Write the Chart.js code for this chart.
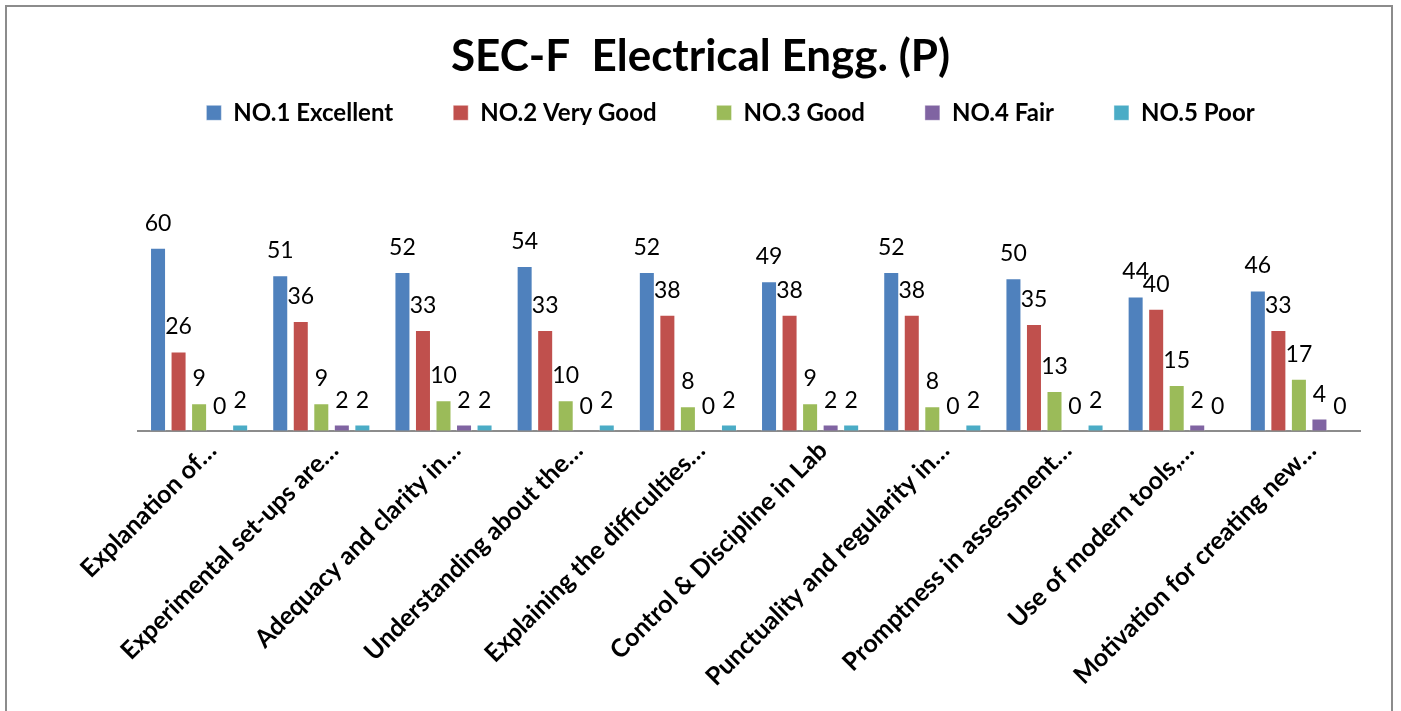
<!DOCTYPE html>
<html>
<head>
<meta charset="utf-8">
<script src="https://cdn.jsdelivr.net/npm/chart.js@4.4.1/dist/chart.umd.min.js"></script>
<style>
  html, body { margin: 0; padding: 0; background: #fff; }
  #frame { position: absolute; left: 5px; top: 5px; width: 1388px; height: 760px; border: 2px solid #8c8c8c; box-sizing: border-box; }
  #wrap { position: absolute; left: 0; top: 0; width: 1401px; height: 711px; }
</style>
</head>
<body>
<div id="frame"></div>
<div id="wrap"><canvas id="surveyChart" width="1401" height="711"></canvas></div>
<script>
// Lab feedback, SEC-F Electrical Engg. (P)
const categories = [
    'Explanation of…',
    'Experimental set-ups are…',
    'Adequacy and clarity in…',
    'Understanding about the…',
    'Explaining the difficulties…',
    'Control & Discipline in Lab',
    'Punctuality and regularity in…',
    'Promptness in assessment…',
    'Use of modern tools,…',
    'Motivation for creating new…'
];
const excellent = [60, 51, 52, 54, 52, 49, 52, 50, 44, 46];
const veryGood  = [26, 36, 33, 33, 38, 38, 38, 35, 40, 33];
const good      = [9, 9, 10, 10, 8, 9, 8, 13, 15, 17];
const fair      = [0, 2, 2, 0, 0, 2, 0, 0, 2, 4];
const poor      = [2, 2, 2, 2, 2, 2, 2, 2, 0, 0];

const FONT = 'Lato, "Open Sans", sans-serif';

// values written above each bar
const barValues = {
    id: 'barValues',
    afterDatasetsDraw(chart) {
        const c = chart.ctx;
        c.save();
        c.font = '23px ' + FONT;
        c.fillStyle = '#000';
        c.textAlign = 'center';
        c.textBaseline = 'alphabetic';
        chart.data.datasets.forEach((ds, i) => {
            chart.getDatasetMeta(i).data.forEach((bar, j) => {
                c.fillText(ds.data[j], bar.x, bar.y - 17);
            });
        });
        c.restore();
    }
};

// legend sits a bit right of the canvas centre
const legendShift = {
    id: 'legendShift',
    afterLayout(chart) {
        chart.legend.left += 30;
        chart.legend.right += 30;
    }
};

const ctx = document.getElementById('surveyChart').getContext('2d');
const surveyChart = new Chart(ctx, {
    type: 'bar',
    data: {
        labels: categories,
        datasets: [
            { label: 'NO.1 Excellent', data: excellent, backgroundColor: '#4F81BD' },
            { label: 'NO.2 Very Good', data: veryGood, backgroundColor: '#C0504D' },
            { label: 'NO.3 Good', data: good, backgroundColor: '#9BBB59' },
            { label: 'NO.4 Fair', data: fair, backgroundColor: '#8064A2' },
            { label: 'NO.5 Poor', data: poor, backgroundColor: '#4BACC6' }
        ]
    },
    options: {
        responsive: false,
        animation: false,
        layout: { padding: { left: 0, right: 0, top: 22, bottom: 14 } },
        datasets: {
            bar: { categoryPercentage: 0.84, barPercentage: 0.78, borderWidth: 1, borderColor: 'rgba(255,255,255,0.45)' }
        },
        plugins: {
            title: {
                display: true,
                text: 'SEC-F  Electrical Engg. (P)',
                color: '#000',
                font: { family: FONT, size: 44, weight: 'bold' },
                padding: { top: 8, bottom: -42 }
            },
            legend: {
                display: true,
                position: 'top',
                labels: {
                    color: '#000',
                    font: { family: FONT, size: 24, weight: 'bold' },
                    boxWidth: 15,
                    boxHeight: 15,
                    padding: 60
                }
            },
            tooltip: { enabled: false }
        },
        scales: {
            x: {
                grid: { display: false, drawTicks: false },
                border: { display: true, color: '#8c8c8c', width: 2 },
                ticks: {
                    color: '#000',
                    font: { family: FONT, size: 25, weight: 'bold' },
                    minRotation: 45,
                    maxRotation: 45,
                    padding: 5,
                    labelOffset: 13,
                    autoSkip: false
                },
                afterFit(scale) {
                    scale.paddingLeft = 138;
                    scale.paddingRight = 41;
                }
            },
            y: {
                display: false,
                beginAtZero: true,
                max: 97
            }
        }
    },
    plugins: [barValues, legendShift]
});
</script>
</body>
</html>
